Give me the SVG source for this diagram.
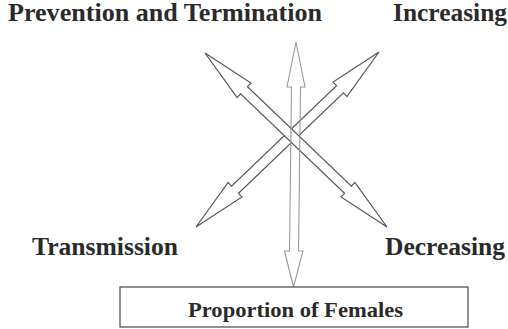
<svg xmlns="http://www.w3.org/2000/svg" width="508" height="329" viewBox="0 0 508 329">
<style>
.lbl{font-family:"Liberation Serif","Times New Roman",serif;font-weight:bold;fill:#2a2a2a}
.arr{fill:#fff;stroke:#555;stroke-width:1.2;stroke-linejoin:miter}
.varr{fill:none;stroke:#999;stroke-width:1.1}
.box{fill:#fff;stroke:#555;stroke-width:1.3}
</style>
<rect width="508" height="329" fill="#fff"/>
<g id="labels">
<text class="lbl" x="8" y="21" font-size="25" textLength="314" lengthAdjust="spacingAndGlyphs">Prevention and Termination</text>
<text class="lbl" x="393" y="21" font-size="25" textLength="114" lengthAdjust="spacingAndGlyphs">Increasing</text>
<text class="lbl" x="32" y="255" font-size="25" textLength="146" lengthAdjust="spacingAndGlyphs">Transmission</text>
<text class="lbl" x="385" y="255" font-size="25" textLength="120" lengthAdjust="spacingAndGlyphs">Decreasing</text>
</g>
<g id="connectors">
<polygon class="arr" points="379,52 333.06,82.09 336.51,85.71 231.57,186.07 228.12,182.45 196,227 241.94,196.91 238.49,193.29 343.43,92.93 346.88,96.55"/>
<polygon class="arr" points="205,53 237.12,97.54 240.58,93.92 344.52,193.30 341.06,196.92 387,227 354.88,182.46 351.43,186.08 247.49,86.70 250.94,83.08"/>
<polygon class="varr" points="296,42 305,87 300.5,87 298.5,251 303,251 293.5,287 284.5,251 289.5,251 291.5,87 287,87"/>
</g>
<g id="node-females">
<rect class="box" x="120" y="287" width="348" height="40"/>
<text class="lbl" x="295.5" y="317" font-size="22" text-anchor="middle" textLength="215" lengthAdjust="spacingAndGlyphs">Proportion of Females</text>
</g>
</svg>
